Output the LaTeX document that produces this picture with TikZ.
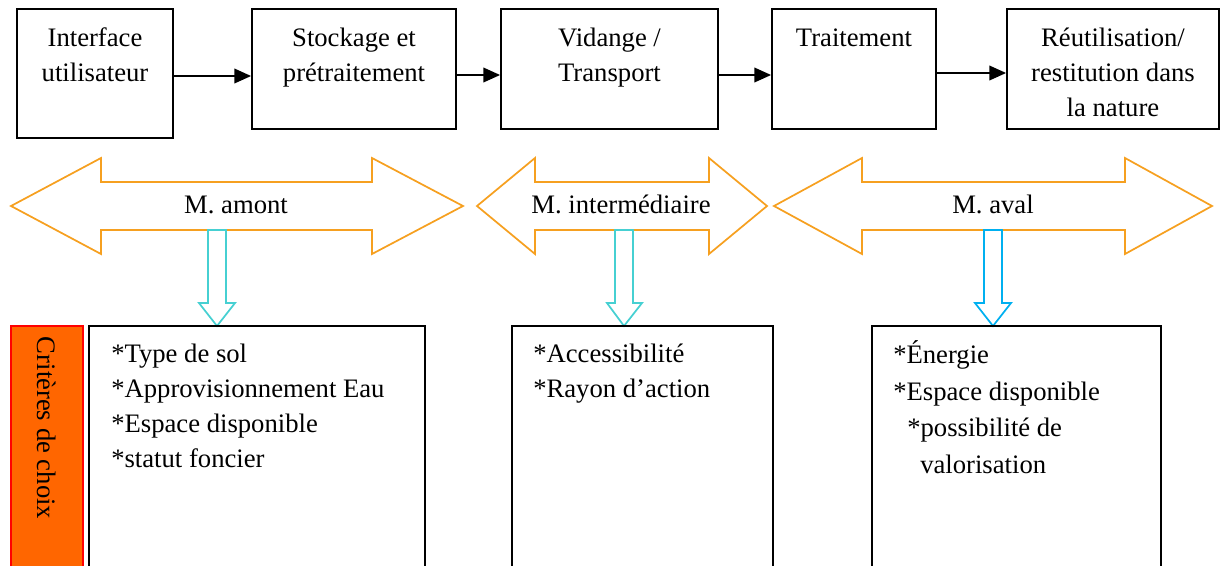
\documentclass[tikz,border=0pt]{standalone}
\usepackage{fontspec}
\setmainfont{Liberation Serif}
\usetikzlibrary{arrows.meta}
\definecolor{arrorange}{RGB}{246,160,32}
\definecolor{turq}{RGB}{70,208,210}
\definecolor{skyb}{RGB}{0,176,240}
\definecolor{critfill}{RGB}{255,102,0}
\begin{document}
\begin{tikzpicture}[x=0.75pt,y=-0.75pt,
  every node/.style={font=\fontsize{20}{26.25}\selectfont},
  procbox/.style={draw, line width=1.4pt, inner sep=0pt},
  boxtext/.style={inner sep=0pt, align=center, anchor=north},
  listtext/.style={inner sep=0pt, align=left, anchor=north west},
  flow/.style={line width=1.1pt, -{Triangle[length=12.5pt,width=11pt]}},
  bigarrow/.style={draw=arrorange, line width=1.3pt, line join=miter},
  downarrow/.style={line width=1.3pt, fill=white}]
\useasboundingbox (0,0) rectangle (1221,565);

% top process boxes
\node[procbox, minimum width=117pt, minimum height=96.75pt] (b1) at (95,73.5) {};
\node[procbox, minimum width=153pt, minimum height=90pt] (b2) at (354,69) {};
\node[procbox, minimum width=162.75pt, minimum height=90pt] (b3) at (609.5,69) {};
\node[procbox, minimum width=123pt, minimum height=90pt] (b4) at (854,69) {};
\node[procbox, minimum width=159pt, minimum height=90pt] (b5) at (1113,69) {};

\node[boxtext] (t1) at (95,21.5) {\strut Interface\\\strut utilisateur};
\node[boxtext] (t2) at (354,21.5) {\strut Stockage et\\\strut prétraitement};
\node[boxtext] (t3) at (609.5,21.5) {\strut Vidange /\\\strut Transport};
\node[boxtext] (t4) at (854,21.5) {\strut Traitement};
\node[boxtext] (t5) at (1113,21.5) {\strut Réutilisation/\\\strut restitution dans\\\strut la nature};

\draw[flow] (b1.east |- 0,76) -- (b2.west |- 0,76);
\draw[flow] (b2.east |- 0,75) -- (b3.west |- 0,75);
\draw[flow] (b3.east |- 0,75) -- (b4.west |- 0,75);
\draw[flow] (b4.east |- 0,73) -- (b5.west |- 0,73);

% double arrows
\draw[bigarrow] (11,206) -- (101,158) -- (101,182) -- (372,182) -- (372,158) -- (463,206)
  -- (372,254) -- (372,230) -- (101,230) -- (101,254) -- cycle;
\draw[bigarrow] (477,206) -- (535,158) -- (535,182) -- (709,182) -- (709,158) -- (767,206)
  -- (709,254) -- (709,230) -- (535,230) -- (535,254) -- cycle;
\draw[bigarrow] (774,206) -- (862,158) -- (862,182) -- (1125,182) -- (1125,158) -- (1212,206)
  -- (1125,254) -- (1125,230) -- (862,230) -- (862,254) -- cycle;

\node[anchor=base] (ma) at (236,213) {M. amont};
\node[anchor=base] (mi) at (621,213) {M. intermédiaire};
\node[anchor=base] (mv) at (993,213) {M. aval};

% down arrows
\draw[downarrow, draw=turq] (208,230) -- (226,230) -- (226,303) -- (235,303) -- (217,326)
  -- (199,303) -- (208,303) -- cycle;
\draw[downarrow, draw=turq] (615,230) -- (633,230) -- (633,303) -- (642,303) -- (624,326)
  -- (607,303) -- (615,303) -- cycle;
\draw[downarrow, draw=skyb] (984,230) -- (1002,230) -- (1002,303) -- (1011,303) -- (993,326)
  -- (975,303) -- (984,303) -- cycle;

% criteria boxes
\node[draw=red, fill=critfill, line width=1pt, minimum width=54pt, minimum height=220.5pt, inner sep=0pt] (crit) at (47,473) {};
\node[rotate=-90, inner sep=0pt] (crittext) at (47,428) {Critères de choix};

\node[procbox, minimum width=252pt, minimum height=220.5pt] (ca) at (257,473) {};
\node[procbox, minimum width=195.75pt, minimum height=220.5pt] (cb) at (642.5,473) {};
\node[procbox, minimum width=216.75pt, minimum height=220.5pt] (cc) at (1016.5,473) {};

\node[listtext] (la) at (111,337.5) {\strut *Type de sol\\\strut *Approvisionnement Eau\\\strut *Espace disponible\\\strut *statut foncier};
\node[listtext] (lb) at (533,337.5) {\strut *Accessibilité\\\strut *Rayon d’action};
\node[listtext, font=\fontsize{20}{27.5}\selectfont] (lc) at (893,337.5) {\strut *Énergie\\\strut *Espace disponible\\\strut\hspace{10.5pt}*possibilité de\\\strut\hspace{20.25pt}valorisation};
\end{tikzpicture}
\end{document}
